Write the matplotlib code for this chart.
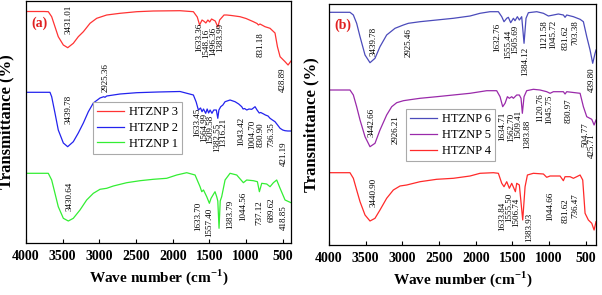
import numpy as np
import matplotlib.pyplot as plt

plt.rcParams['font.family'] = 'Liberation Serif'
plt.rcParams['mathtext.fontset'] = 'custom'
plt.rcParams['mathtext.rm'] = 'Liberation Serif'
plt.rcParams['mathtext.bf'] = 'Liberation Serif:bold'

# ---- panel (a) spectra, wavenumber (cm-1) vs offset transmittance (a.u.)
wn3 = [4000, 3750, 3696, 3650, 3605, 3560, 3491, 3431, 3355, 3287, 3218, 3127, 3036, 2900, 2718, 2490,
       2264, 1900, 1718, 1665, 1633, 1600, 1570, 1548, 1520, 1496, 1470, 1420, 1384, 1360, 1300, 1264,
       1200, 1082, 1000, 900, 850, 831, 810, 741, 673, 605, 572, 536, 468, 427, 387]
t3 = [231.5, 231.5, 231.3, 226.3, 216.3, 206.3, 198, 195.3, 199.7, 206.3, 211.3, 219.7, 224.7, 228, 229.7, 231.3,
      232, 232.3, 231.3, 226, 218, 223, 221.5, 220, 223, 221, 224, 222, 216, 223, 228, 228,
      227.5, 226.3, 224.5, 221.3, 219.5, 218, 219, 216.3, 214.7, 210, 196.3, 186.3, 181.3, 178, 182]

wn2 = [4000, 3673, 3650, 3605, 3560, 3491, 3432, 3355, 3287, 3218, 3150, 3082, 2991, 2940, 2923, 2900,
       2718, 2491, 2200, 1900, 1718, 1680, 1650, 1620, 1600, 1580, 1550, 1530, 1510, 1490, 1465, 1440,
       1405, 1385, 1370, 1345, 1316, 1286, 1218, 1150, 1100, 1059, 1040, 1020, 990, 960, 922, 877,
       850, 820, 800, 760, 736, 700, 673, 640, 605, 570, 536, 500, 468, 430, 387]
t2 = [150.7, 150.7, 146.3, 130, 113, 100, 96.3, 101.3, 110, 120, 131.3, 140, 145, 146.3, 145.7, 147,
      149, 150.3, 151, 151.5, 148, 141, 133, 135, 131.3, 134, 129.7, 134, 130, 133, 129.7, 133,
      133, 124.7, 133, 136.3, 138, 141.3, 143, 141.3, 139, 136.3, 134, 134.5, 133, 134, 133.7, 136.3,
      133, 130, 130.5, 129, 128, 127, 124.7, 123, 121.3, 118, 114.7, 113, 112.3, 112, 112]

wn1 = [4000, 3696, 3650, 3605, 3560, 3491, 3423, 3355, 3264, 3173, 3082, 2991, 2900, 2809, 2627, 2445,
       2264, 2082, 1945, 1809, 1695, 1627, 1604, 1580, 1536, 1500, 1477, 1423, 1400, 1385, 1368, 1352,
       1332, 1286, 1218, 1127, 1036, 991, 900, 845, 818, 786, 718, 673, 627, 582, 536, 468, 387]
t1 = [69.7, 69.7, 63, 49.7, 36.3, 24.7, 22, 24.7, 33, 43, 49.7, 53.7, 54.7, 57, 60.3, 62.3,
      63.7, 64.7, 68, 70.3, 68, 56.3, 51.3, 53, 46.3, 39.7, 44.7, 51.3, 46.3, 42, 14.7, 42,
      46.3, 63, 69.7, 68, 60.3, 63, 62.3, 61.3, 51.3, 59.7, 59, 56.3, 60.3, 63, 54.7, 43, 40.3]

# ---- panel (b) spectra
wn6 = [4000, 3714, 3668, 3623, 3577, 3509, 3441, 3373, 3305, 3214, 3100, 2986, 2918, 2759, 2532, 2305,
       2077, 1941, 1805, 1691, 1645, 1614, 1577, 1555, 1523, 1486, 1464, 1432, 1405, 1373, 1341, 1314,
       1282, 1168, 1077, 1009, 941, 873, 805, 782, 759, 668, 577, 532, 486, 441, 405, 373, 360]
t6 = [232.7, 232.7, 230, 221.7, 208.3, 190, 182.3, 186.7, 198.3, 210, 216.7, 220, 221.7, 223.3, 225, 226.7,
      229, 231.7, 233.3, 233.3, 228.3, 223.3, 226.7, 227.7, 222.3, 226.7, 224.3, 228.3, 225, 228.3, 201.7, 226.7,
      232.3, 233.3, 231.7, 229, 230, 231, 230, 227.7, 230, 228.3, 225.7, 223.3, 208.3, 195, 181.7, 191.7, 195]

wn5 = [4000, 3714, 3668, 3623, 3577, 3509, 3441, 3373, 3305, 3214, 3145, 3077, 2986, 2895, 2759, 2532,
       2305, 2077, 1850, 1714, 1668, 1632, 1600, 1568, 1541, 1509, 1486, 1441, 1405, 1382, 1364, 1341,
       1305, 1214, 1123, 1032, 986, 941, 805, 782, 759, 577, 532, 486, 418, 386, 360]
t5 = [155, 155, 150, 138.3, 125, 108.3, 98.3, 101.7, 115, 130, 138.3, 142.3, 144.3, 145.3, 146.7, 148.3,
      150, 151.7, 154.3, 154.3, 148.3, 138.3, 141.7, 148.3, 146.7, 148.3, 146.7, 150, 150, 146.7, 131.7, 148.3,
      154.3, 155.7, 155, 153.3, 151.7, 153.3, 153.3, 151, 153.3, 151.7, 138.3, 128.3, 125.7, 120, 125]

wn4 = [4000, 3714, 3668, 3623, 3577, 3509, 3441, 3373, 3305, 3214, 3123, 3032, 2941, 2759, 2532, 2305,
       2077, 1941, 1759, 1691, 1645, 1614, 1577, 1541, 1509, 1459, 1441, 1405, 1359, 1327, 1295, 1214,
       1077, 1032, 986, 850, 805, 782, 714, 668, 623, 577, 541, 509, 464, 418, 386, 360]
t4 = [72.3, 72.3, 66.7, 55, 43.3, 30, 24, 26.7, 35, 46.7, 55, 59, 60, 63.3, 65.7, 66.7,
      69, 71.7, 72.3, 71.7, 61.7, 58.3, 63.3, 56.7, 61.7, 53.3, 61.7, 60, 25, 58.3, 70, 71.7,
      71, 67.7, 69, 69, 64.3, 68.3, 68.3, 66.7, 68.3, 70, 65, 31.7, 25, 21.7, 15, 23.3]

# ---- peak labels and where they sit (wavenumber, top of text)
peaks_a = ["3431.01", "1633.36", "1548.16", "1496.36", "1383.99", "831.18", "428.89",
           "2925.36", "3439.78", "1633.45", "1564.99", "1509.58", "1382.55", "1316.21",
           "1043.42", "1004.70", "830.90", "736.35", "421.19",
           "3430.64", "1633.70", "1557.40", "1383.79", "1044.56", "737.12", "689.62", "418.85"]
peak_pos_a = [(3423, 238), (1640, 220), (1540, 214), (1450, 216), (1355, 220), (795, 211), (491, 175),
              (2909, 180), (3414, 148), (1660, 135), (1575, 130), (1487, 128), (1392, 120), (1310, 125),
              (1068, 126), (922, 123), (802, 121), (655, 121), (482, 101),
              (3400, 61), (1657, 41), (1507, 35), (1214, 43), (1034, 51), (816, 43), (656, 46), (482, 38)]

peaks_b = ["3439.78", "2925.46", "1632.76", "1555.44", "1505.69", "1384.12", "1121.58",
           "1045.72", "831.62", "703.38", "439.80",
           "3442.66", "2926.21", "1634.71", "1562.70", "1509.41", "1383.88", "1120.76",
           "1045.75", "830.97", "504.77", "425.71",
           "3440.90", "1633.84", "1555.50", "1506.74", "1383.93", "1044.66", "831.62", "736.47"]
peak_pos_b = [(3396, 218), (2919, 217), (1713, 222), (1560, 215), (1462, 220), (1327, 198), (1068, 225),
              (941, 225), (768, 220), (645, 225), (418, 178),
              (3418, 137), (3086, 130), (1636, 133), (1522, 132), (1415, 135), (1296, 125), (1123, 152),
              (996, 150), (737, 147), (509, 123), (418, 112),
              (3396, 67), (1636, 43), (1541, 52), (1446, 47), (1269, 32), (986, 53), (768, 47), (645, 52)]

xticks = [4000, 3500, 3000, 2500, 2000, 1500, 1000, 500]

fig = plt.figure(figsize=(6.02, 2.95), dpi=100)
ax_a = fig.add_axes([26/602, 52/295, 265/602, 242/295])
ax_b = fig.add_axes([329/602, 50/295, 267/602, 241/295])

ax_a.plot(wn3, t3, color='#ff3333', lw=0.9, label='HTZNP 3')
ax_a.plot(wn2, t2, color='#2323ee', lw=0.9, label='HTZNP 2')
ax_a.plot(wn1, t1, color='#33ee33', lw=0.9, label='HTZNP 1')
ax_a.set_xlim(4000, 387)
ax_a.set_ylim(0, 242)

ax_b.plot(wn6, t6, color='#4b4bbb', lw=0.9, label='HTZNP 6')
ax_b.plot(wn5, t5, color='#9a2aaa', lw=0.9, label='HTZNP 5')
ax_b.plot(wn4, t4, color='#ff2a2a', lw=0.9, label='HTZNP 4')
ax_b.set_xlim(4000, 360)
ax_b.set_ylim(0, 241)

for ax, peaks, pos in [(ax_a, peaks_a, peak_pos_a), (ax_b, peaks_b, peak_pos_b)]:
    for txt, (x, y) in zip(peaks, pos):
        ax.text(x, y, txt, rotation=90, ha='center', va='top', fontsize=6.5)

for ax, lab, anchor, ypad in [(ax_a, '(a)', (0.253, 0.583), 8), (ax_b, '(b)', (0.288, 0.564), 7)]:
    ax.set_xticks(xticks, [str(v) for v in xticks], fontweight='bold', fontsize=10)
    ax.set_yticks([])
    ax.tick_params(axis='x', direction='in', length=3, width=0.8, pad=5)
    for s in ax.spines.values():
        s.set_linewidth(0.9)
    ax.set_xlabel(r'Wave number (cm$^{\mathbf{-1}}$)', fontsize=11, fontweight='bold', labelpad=3)
    ax.set_ylabel('Transmittance (%)', fontsize=12, fontweight='bold', labelpad=ypad)
    ax.text(0.02, 0.91, lab, transform=ax.transAxes, color='#e02020', fontsize=10,
            fontweight='bold', va='center', ha='left')
    leg = ax.legend(loc='upper left', bbox_to_anchor=anchor, borderaxespad=0, fontsize=9,
                    fancybox=False, framealpha=1, edgecolor='#aaaaaa', labelspacing=0.3,
                    borderpad=0.35, handlelength=2.1, handletextpad=0.4)
    leg.get_frame().set_linewidth(0.8)

fig.savefig('out.png', dpi=100)
